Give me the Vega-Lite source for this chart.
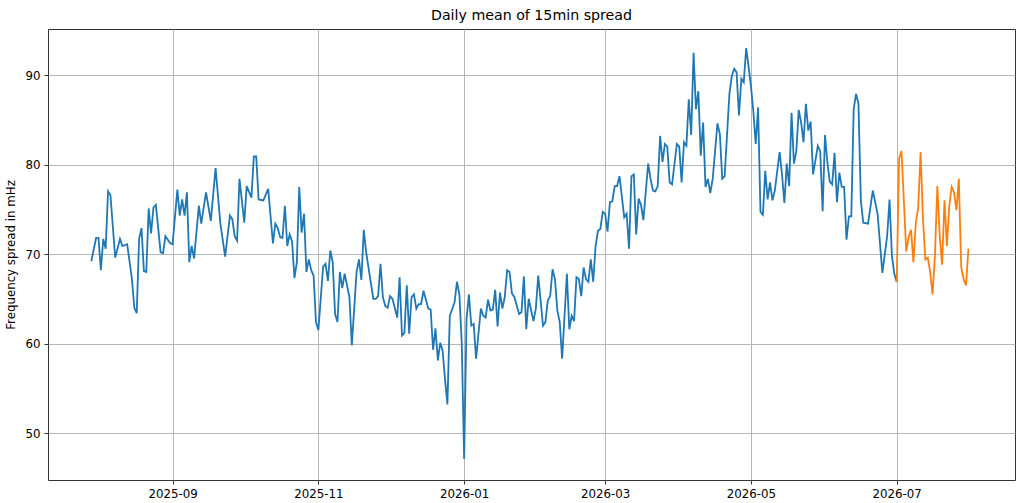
{
  "$schema": "https://vega.github.io/schema/vega-lite/v6.json",
  "width": 967,
  "height": 451,
  "autosize": {"type": "none"},
  "padding": {"left": 48, "top": 29, "right": 9, "bottom": 23},
  "background": "white",
  "title": {
    "text": "Daily mean of 15min spread",
    "font": "DejaVu Sans",
    "fontSize": 14.2,
    "fontWeight": "normal",
    "color": "black",
    "offset": 6
  },
  "config": {
    "view": {"stroke": "#333333", "strokeWidth": 1},
    "axis": {
      "labelFont": "DejaVu Sans",
      "labelFontSize": 11.8,
      "labelColor": "black",
      "titleFont": "DejaVu Sans",
      "titleFontSize": 11.8,
      "titleFontWeight": "normal",
      "titleColor": "black",
      "domain": false,
      "tickColor": "#333333",
      "tickSize": 4,
      "tickWidth": 1,
      "labelPadding": 4,
      "gridColor": "#b0b0b0",
      "gridWidth": 0.9
    }
  },
  "data": {
    "values": [
      {"date": "2025-07-29", "value": 69.2, "series": "past"},
      {"date": "2025-07-31", "value": 71.8, "series": "past"},
      {"date": "2025-08-01", "value": 71.8, "series": "past"},
      {"date": "2025-08-02", "value": 68.2, "series": "past"},
      {"date": "2025-08-03", "value": 71.7, "series": "past"},
      {"date": "2025-08-04", "value": 70.6, "series": "past"},
      {"date": "2025-08-05", "value": 77.0, "series": "past"},
      {"date": "2025-08-06", "value": 76.6, "series": "past"},
      {"date": "2025-08-08", "value": 69.6, "series": "past"},
      {"date": "2025-08-10", "value": 71.7, "series": "past"},
      {"date": "2025-08-11", "value": 70.9, "series": "past"},
      {"date": "2025-08-13", "value": 71.1, "series": "past"},
      {"date": "2025-08-15", "value": 67.2, "series": "past"},
      {"date": "2025-08-16", "value": 64.0, "series": "past"},
      {"date": "2025-08-17", "value": 63.4, "series": "past"},
      {"date": "2025-08-18", "value": 71.7, "series": "past"},
      {"date": "2025-08-19", "value": 72.9, "series": "past"},
      {"date": "2025-08-20", "value": 68.1, "series": "past"},
      {"date": "2025-08-21", "value": 68.0, "series": "past"},
      {"date": "2025-08-22", "value": 75.1, "series": "past"},
      {"date": "2025-08-23", "value": 72.3, "series": "past"},
      {"date": "2025-08-24", "value": 75.2, "series": "past"},
      {"date": "2025-08-25", "value": 75.5, "series": "past"},
      {"date": "2025-08-27", "value": 70.2, "series": "past"},
      {"date": "2025-08-28", "value": 70.1, "series": "past"},
      {"date": "2025-08-29", "value": 72.0, "series": "past"},
      {"date": "2025-08-31", "value": 71.2, "series": "past"},
      {"date": "2025-09-01", "value": 71.1, "series": "past"},
      {"date": "2025-09-03", "value": 77.2, "series": "past"},
      {"date": "2025-09-04", "value": 74.3, "series": "past"},
      {"date": "2025-09-05", "value": 76.1, "series": "past"},
      {"date": "2025-09-06", "value": 74.3, "series": "past"},
      {"date": "2025-09-07", "value": 76.9, "series": "past"},
      {"date": "2025-09-08", "value": 69.1, "series": "past"},
      {"date": "2025-09-09", "value": 70.9, "series": "past"},
      {"date": "2025-09-10", "value": 69.5, "series": "past"},
      {"date": "2025-09-12", "value": 75.4, "series": "past"},
      {"date": "2025-09-13", "value": 73.4, "series": "past"},
      {"date": "2025-09-15", "value": 76.9, "series": "past"},
      {"date": "2025-09-17", "value": 73.7, "series": "past"},
      {"date": "2025-09-19", "value": 79.6, "series": "past"},
      {"date": "2025-09-21", "value": 73.4, "series": "past"},
      {"date": "2025-09-23", "value": 69.7, "series": "past"},
      {"date": "2025-09-25", "value": 74.3, "series": "past"},
      {"date": "2025-09-26", "value": 73.9, "series": "past"},
      {"date": "2025-09-27", "value": 72.0, "series": "past"},
      {"date": "2025-09-28", "value": 71.5, "series": "past"},
      {"date": "2025-09-29", "value": 78.4, "series": "past"},
      {"date": "2025-10-01", "value": 73.5, "series": "past"},
      {"date": "2025-10-02", "value": 77.6, "series": "past"},
      {"date": "2025-10-04", "value": 76.3, "series": "past"},
      {"date": "2025-10-05", "value": 80.9, "series": "past"},
      {"date": "2025-10-06", "value": 80.9, "series": "past"},
      {"date": "2025-10-07", "value": 76.1, "series": "past"},
      {"date": "2025-10-09", "value": 76.0, "series": "past"},
      {"date": "2025-10-11", "value": 77.3, "series": "past"},
      {"date": "2025-10-13", "value": 71.2, "series": "past"},
      {"date": "2025-10-14", "value": 73.4, "series": "past"},
      {"date": "2025-10-15", "value": 72.9, "series": "past"},
      {"date": "2025-10-16", "value": 71.9, "series": "past"},
      {"date": "2025-10-17", "value": 71.8, "series": "past"},
      {"date": "2025-10-18", "value": 75.4, "series": "past"},
      {"date": "2025-10-19", "value": 70.9, "series": "past"},
      {"date": "2025-10-20", "value": 72.2, "series": "past"},
      {"date": "2025-10-21", "value": 71.4, "series": "past"},
      {"date": "2025-10-22", "value": 67.3, "series": "past"},
      {"date": "2025-10-23", "value": 69.1, "series": "past"},
      {"date": "2025-10-24", "value": 77.5, "series": "past"},
      {"date": "2025-10-25", "value": 72.4, "series": "past"},
      {"date": "2025-10-26", "value": 74.5, "series": "past"},
      {"date": "2025-10-27", "value": 68.0, "series": "past"},
      {"date": "2025-10-28", "value": 69.4, "series": "past"},
      {"date": "2025-10-29", "value": 68.2, "series": "past"},
      {"date": "2025-10-30", "value": 67.6, "series": "past"},
      {"date": "2025-10-31", "value": 62.4, "series": "past"},
      {"date": "2025-11-01", "value": 61.5, "series": "past"},
      {"date": "2025-11-03", "value": 68.6, "series": "past"},
      {"date": "2025-11-04", "value": 68.9, "series": "past"},
      {"date": "2025-11-05", "value": 67.0, "series": "past"},
      {"date": "2025-11-06", "value": 70.4, "series": "past"},
      {"date": "2025-11-07", "value": 69.1, "series": "past"},
      {"date": "2025-11-08", "value": 63.3, "series": "past"},
      {"date": "2025-11-09", "value": 62.4, "series": "past"},
      {"date": "2025-11-10", "value": 68.0, "series": "past"},
      {"date": "2025-11-11", "value": 66.2, "series": "past"},
      {"date": "2025-11-12", "value": 67.8, "series": "past"},
      {"date": "2025-11-14", "value": 65.2, "series": "past"},
      {"date": "2025-11-15", "value": 59.8, "series": "past"},
      {"date": "2025-11-17", "value": 68.0, "series": "past"},
      {"date": "2025-11-18", "value": 69.4, "series": "past"},
      {"date": "2025-11-19", "value": 67.1, "series": "past"},
      {"date": "2025-11-20", "value": 72.7, "series": "past"},
      {"date": "2025-11-21", "value": 70.2, "series": "past"},
      {"date": "2025-11-24", "value": 65.0, "series": "past"},
      {"date": "2025-11-25", "value": 65.0, "series": "past"},
      {"date": "2025-11-26", "value": 65.3, "series": "past"},
      {"date": "2025-11-27", "value": 68.9, "series": "past"},
      {"date": "2025-11-28", "value": 65.2, "series": "past"},
      {"date": "2025-11-29", "value": 64.2, "series": "past"},
      {"date": "2025-11-30", "value": 64.0, "series": "past"},
      {"date": "2025-12-01", "value": 65.3, "series": "past"},
      {"date": "2025-12-02", "value": 65.0, "series": "past"},
      {"date": "2025-12-04", "value": 62.9, "series": "past"},
      {"date": "2025-12-05", "value": 67.4, "series": "past"},
      {"date": "2025-12-06", "value": 60.9, "series": "past"},
      {"date": "2025-12-07", "value": 61.2, "series": "past"},
      {"date": "2025-12-08", "value": 66.5, "series": "past"},
      {"date": "2025-12-09", "value": 61.1, "series": "past"},
      {"date": "2025-12-10", "value": 65.2, "series": "past"},
      {"date": "2025-12-11", "value": 65.5, "series": "past"},
      {"date": "2025-12-12", "value": 63.9, "series": "past"},
      {"date": "2025-12-13", "value": 64.4, "series": "past"},
      {"date": "2025-12-14", "value": 64.4, "series": "past"},
      {"date": "2025-12-15", "value": 65.9, "series": "past"},
      {"date": "2025-12-17", "value": 63.9, "series": "past"},
      {"date": "2025-12-18", "value": 63.8, "series": "past"},
      {"date": "2025-12-19", "value": 59.3, "series": "past"},
      {"date": "2025-12-20", "value": 61.7, "series": "past"},
      {"date": "2025-12-21", "value": 58.1, "series": "past"},
      {"date": "2025-12-22", "value": 60.1, "series": "past"},
      {"date": "2025-12-23", "value": 59.2, "series": "past"},
      {"date": "2025-12-24", "value": 56.0, "series": "past"},
      {"date": "2025-12-25", "value": 53.2, "series": "past"},
      {"date": "2025-12-26", "value": 63.1, "series": "past"},
      {"date": "2025-12-28", "value": 64.6, "series": "past"},
      {"date": "2025-12-29", "value": 66.9, "series": "past"},
      {"date": "2025-12-30", "value": 65.5, "series": "past"},
      {"date": "2025-12-31", "value": 60.1, "series": "past"},
      {"date": "2026-01-01", "value": 47.1, "series": "past"},
      {"date": "2026-01-02", "value": 62.7, "series": "past"},
      {"date": "2026-01-03", "value": 65.5, "series": "past"},
      {"date": "2026-01-04", "value": 62.0, "series": "past"},
      {"date": "2026-01-05", "value": 62.2, "series": "past"},
      {"date": "2026-01-06", "value": 58.3, "series": "past"},
      {"date": "2026-01-08", "value": 63.9, "series": "past"},
      {"date": "2026-01-09", "value": 63.1, "series": "past"},
      {"date": "2026-01-10", "value": 62.9, "series": "past"},
      {"date": "2026-01-11", "value": 64.9, "series": "past"},
      {"date": "2026-01-12", "value": 63.7, "series": "past"},
      {"date": "2026-01-13", "value": 63.8, "series": "past"},
      {"date": "2026-01-14", "value": 66.0, "series": "past"},
      {"date": "2026-01-15", "value": 61.9, "series": "past"},
      {"date": "2026-01-16", "value": 65.7, "series": "past"},
      {"date": "2026-01-17", "value": 63.9, "series": "past"},
      {"date": "2026-01-18", "value": 65.2, "series": "past"},
      {"date": "2026-01-19", "value": 68.2, "series": "past"},
      {"date": "2026-01-20", "value": 68.0, "series": "past"},
      {"date": "2026-01-21", "value": 65.6, "series": "past"},
      {"date": "2026-01-22", "value": 65.2, "series": "past"},
      {"date": "2026-01-24", "value": 63.3, "series": "past"},
      {"date": "2026-01-25", "value": 63.5, "series": "past"},
      {"date": "2026-01-26", "value": 67.5, "series": "past"},
      {"date": "2026-01-27", "value": 61.6, "series": "past"},
      {"date": "2026-01-28", "value": 65.0, "series": "past"},
      {"date": "2026-01-30", "value": 62.5, "series": "past"},
      {"date": "2026-01-31", "value": 63.9, "series": "past"},
      {"date": "2026-02-01", "value": 67.6, "series": "past"},
      {"date": "2026-02-03", "value": 62.0, "series": "past"},
      {"date": "2026-02-04", "value": 62.4, "series": "past"},
      {"date": "2026-02-05", "value": 64.8, "series": "past"},
      {"date": "2026-02-06", "value": 65.3, "series": "past"},
      {"date": "2026-02-07", "value": 68.3, "series": "past"},
      {"date": "2026-02-08", "value": 67.2, "series": "past"},
      {"date": "2026-02-09", "value": 63.7, "series": "past"},
      {"date": "2026-02-10", "value": 62.4, "series": "past"},
      {"date": "2026-02-11", "value": 58.3, "series": "past"},
      {"date": "2026-02-13", "value": 67.8, "series": "past"},
      {"date": "2026-02-14", "value": 61.6, "series": "past"},
      {"date": "2026-02-15", "value": 63.1, "series": "past"},
      {"date": "2026-02-16", "value": 62.5, "series": "past"},
      {"date": "2026-02-17", "value": 67.4, "series": "past"},
      {"date": "2026-02-18", "value": 67.2, "series": "past"},
      {"date": "2026-02-19", "value": 65.3, "series": "past"},
      {"date": "2026-02-20", "value": 68.5, "series": "past"},
      {"date": "2026-02-21", "value": 67.2, "series": "past"},
      {"date": "2026-02-22", "value": 66.9, "series": "past"},
      {"date": "2026-02-23", "value": 69.4, "series": "past"},
      {"date": "2026-02-24", "value": 66.9, "series": "past"},
      {"date": "2026-02-25", "value": 70.9, "series": "past"},
      {"date": "2026-02-26", "value": 72.6, "series": "past"},
      {"date": "2026-02-27", "value": 72.8, "series": "past"},
      {"date": "2026-02-28", "value": 74.7, "series": "past"},
      {"date": "2026-03-01", "value": 74.5, "series": "past"},
      {"date": "2026-03-02", "value": 72.5, "series": "past"},
      {"date": "2026-03-03", "value": 75.8, "series": "past"},
      {"date": "2026-03-04", "value": 75.9, "series": "past"},
      {"date": "2026-03-05", "value": 77.6, "series": "past"},
      {"date": "2026-03-06", "value": 77.6, "series": "past"},
      {"date": "2026-03-07", "value": 78.7, "series": "past"},
      {"date": "2026-03-09", "value": 74.1, "series": "past"},
      {"date": "2026-03-10", "value": 74.5, "series": "past"},
      {"date": "2026-03-11", "value": 70.6, "series": "past"},
      {"date": "2026-03-12", "value": 78.7, "series": "past"},
      {"date": "2026-03-13", "value": 78.9, "series": "past"},
      {"date": "2026-03-14", "value": 72.2, "series": "past"},
      {"date": "2026-03-15", "value": 76.2, "series": "past"},
      {"date": "2026-03-16", "value": 75.5, "series": "past"},
      {"date": "2026-03-17", "value": 73.8, "series": "past"},
      {"date": "2026-03-19", "value": 80.1, "series": "past"},
      {"date": "2026-03-20", "value": 78.4, "series": "past"},
      {"date": "2026-03-21", "value": 77.1, "series": "past"},
      {"date": "2026-03-22", "value": 77.0, "series": "past"},
      {"date": "2026-03-23", "value": 77.6, "series": "past"},
      {"date": "2026-03-24", "value": 83.2, "series": "past"},
      {"date": "2026-03-25", "value": 80.3, "series": "past"},
      {"date": "2026-03-26", "value": 82.3, "series": "past"},
      {"date": "2026-03-27", "value": 82.0, "series": "past"},
      {"date": "2026-03-28", "value": 78.0, "series": "past"},
      {"date": "2026-03-29", "value": 77.8, "series": "past"},
      {"date": "2026-03-31", "value": 82.3, "series": "past"},
      {"date": "2026-04-01", "value": 82.0, "series": "past"},
      {"date": "2026-04-02", "value": 78.0, "series": "past"},
      {"date": "2026-04-03", "value": 82.5, "series": "past"},
      {"date": "2026-04-04", "value": 82.1, "series": "past"},
      {"date": "2026-04-05", "value": 87.3, "series": "past"},
      {"date": "2026-04-06", "value": 83.3, "series": "past"},
      {"date": "2026-04-07", "value": 92.5, "series": "past"},
      {"date": "2026-04-08", "value": 86.2, "series": "past"},
      {"date": "2026-04-09", "value": 88.2, "series": "past"},
      {"date": "2026-04-10", "value": 81.0, "series": "past"},
      {"date": "2026-04-11", "value": 84.7, "series": "past"},
      {"date": "2026-04-12", "value": 77.5, "series": "past"},
      {"date": "2026-04-13", "value": 78.4, "series": "past"},
      {"date": "2026-04-14", "value": 76.8, "series": "past"},
      {"date": "2026-04-15", "value": 78.4, "series": "past"},
      {"date": "2026-04-17", "value": 84.6, "series": "past"},
      {"date": "2026-04-18", "value": 83.4, "series": "past"},
      {"date": "2026-04-19", "value": 78.4, "series": "past"},
      {"date": "2026-04-20", "value": 78.7, "series": "past"},
      {"date": "2026-04-22", "value": 87.9, "series": "past"},
      {"date": "2026-04-23", "value": 89.9, "series": "past"},
      {"date": "2026-04-24", "value": 90.7, "series": "past"},
      {"date": "2026-04-25", "value": 90.3, "series": "past"},
      {"date": "2026-04-26", "value": 85.5, "series": "past"},
      {"date": "2026-04-27", "value": 89.6, "series": "past"},
      {"date": "2026-04-28", "value": 89.2, "series": "past"},
      {"date": "2026-04-29", "value": 93.0, "series": "past"},
      {"date": "2026-04-30", "value": 91.0, "series": "past"},
      {"date": "2026-05-01", "value": 88.8, "series": "past"},
      {"date": "2026-05-02", "value": 86.0, "series": "past"},
      {"date": "2026-05-03", "value": 82.3, "series": "past"},
      {"date": "2026-05-04", "value": 86.4, "series": "past"},
      {"date": "2026-05-05", "value": 74.7, "series": "past"},
      {"date": "2026-05-06", "value": 74.4, "series": "past"},
      {"date": "2026-05-07", "value": 79.3, "series": "past"},
      {"date": "2026-05-08", "value": 76.1, "series": "past"},
      {"date": "2026-05-09", "value": 78.0, "series": "past"},
      {"date": "2026-05-10", "value": 76.0, "series": "past"},
      {"date": "2026-05-11", "value": 77.1, "series": "past"},
      {"date": "2026-05-13", "value": 81.4, "series": "past"},
      {"date": "2026-05-14", "value": 78.9, "series": "past"},
      {"date": "2026-05-15", "value": 75.7, "series": "past"},
      {"date": "2026-05-16", "value": 80.1, "series": "past"},
      {"date": "2026-05-17", "value": 77.6, "series": "past"},
      {"date": "2026-05-18", "value": 85.8, "series": "past"},
      {"date": "2026-05-19", "value": 80.1, "series": "past"},
      {"date": "2026-05-20", "value": 81.5, "series": "past"},
      {"date": "2026-05-21", "value": 86.1, "series": "past"},
      {"date": "2026-05-22", "value": 84.7, "series": "past"},
      {"date": "2026-05-23", "value": 82.5, "series": "past"},
      {"date": "2026-05-24", "value": 86.8, "series": "past"},
      {"date": "2026-05-25", "value": 83.8, "series": "past"},
      {"date": "2026-05-26", "value": 84.8, "series": "past"},
      {"date": "2026-05-27", "value": 78.9, "series": "past"},
      {"date": "2026-05-29", "value": 82.1, "series": "past"},
      {"date": "2026-05-30", "value": 81.5, "series": "past"},
      {"date": "2026-05-31", "value": 74.8, "series": "past"},
      {"date": "2026-06-01", "value": 83.3, "series": "past"},
      {"date": "2026-06-02", "value": 80.2, "series": "past"},
      {"date": "2026-06-03", "value": 78.1, "series": "past"},
      {"date": "2026-06-04", "value": 77.8, "series": "past"},
      {"date": "2026-06-05", "value": 81.3, "series": "past"},
      {"date": "2026-06-06", "value": 75.8, "series": "past"},
      {"date": "2026-06-07", "value": 79.1, "series": "past"},
      {"date": "2026-06-08", "value": 77.5, "series": "past"},
      {"date": "2026-06-09", "value": 77.5, "series": "past"},
      {"date": "2026-06-10", "value": 71.6, "series": "past"},
      {"date": "2026-06-11", "value": 74.2, "series": "past"},
      {"date": "2026-06-12", "value": 74.2, "series": "past"},
      {"date": "2026-06-13", "value": 86.2, "series": "past"},
      {"date": "2026-06-14", "value": 87.9, "series": "past"},
      {"date": "2026-06-15", "value": 86.8, "series": "past"},
      {"date": "2026-06-16", "value": 76.0, "series": "past"},
      {"date": "2026-06-17", "value": 73.5, "series": "past"},
      {"date": "2026-06-19", "value": 73.4, "series": "past"},
      {"date": "2026-06-21", "value": 77.1, "series": "past"},
      {"date": "2026-06-23", "value": 74.5, "series": "past"},
      {"date": "2026-06-25", "value": 67.9, "series": "past"},
      {"date": "2026-06-27", "value": 72.0, "series": "past"},
      {"date": "2026-06-28", "value": 76.1, "series": "past"},
      {"date": "2026-06-29", "value": 69.8, "series": "past"},
      {"date": "2026-06-30", "value": 67.8, "series": "past"},
      {"date": "2026-07-01", "value": 66.9, "series": "past"},
      {"date": "2026-07-01", "value": 66.9, "series": "recent"},
      {"date": "2026-07-02", "value": 80.7, "series": "recent"},
      {"date": "2026-07-03", "value": 81.5, "series": "recent"},
      {"date": "2026-07-05", "value": 70.3, "series": "recent"},
      {"date": "2026-07-06", "value": 71.9, "series": "recent"},
      {"date": "2026-07-07", "value": 72.7, "series": "recent"},
      {"date": "2026-07-08", "value": 69.1, "series": "recent"},
      {"date": "2026-07-09", "value": 73.5, "series": "recent"},
      {"date": "2026-07-10", "value": 75.2, "series": "recent"},
      {"date": "2026-07-11", "value": 81.4, "series": "recent"},
      {"date": "2026-07-12", "value": 73.9, "series": "recent"},
      {"date": "2026-07-13", "value": 69.4, "series": "recent"},
      {"date": "2026-07-14", "value": 69.6, "series": "recent"},
      {"date": "2026-07-15", "value": 68.0, "series": "recent"},
      {"date": "2026-07-16", "value": 65.5, "series": "recent"},
      {"date": "2026-07-17", "value": 69.8, "series": "recent"},
      {"date": "2026-07-18", "value": 77.6, "series": "recent"},
      {"date": "2026-07-19", "value": 72.0, "series": "recent"},
      {"date": "2026-07-20", "value": 68.8, "series": "recent"},
      {"date": "2026-07-21", "value": 76.0, "series": "recent"},
      {"date": "2026-07-22", "value": 70.9, "series": "recent"},
      {"date": "2026-07-23", "value": 75.4, "series": "recent"},
      {"date": "2026-07-24", "value": 77.5, "series": "recent"},
      {"date": "2026-07-25", "value": 76.9, "series": "recent"},
      {"date": "2026-07-26", "value": 74.9, "series": "recent"},
      {"date": "2026-07-27", "value": 78.4, "series": "recent"},
      {"date": "2026-07-28", "value": 68.5, "series": "recent"},
      {"date": "2026-07-29", "value": 67.2, "series": "recent"},
      {"date": "2026-07-30", "value": 66.5, "series": "recent"},
      {"date": "2026-07-31", "value": 70.6, "series": "recent"}
    ]
  },
  "mark": {"type": "line", "strokeWidth": 1.8, "clip": true},
  "encoding": {
    "x": {
      "field": "date",
      "type": "temporal",
      "scale": {
        "type": "utc",
        "domain": [
          {"year": 2025, "month": 7, "date": 10, "hours": 21, "utc": true},
          {"year": 2026, "month": 8, "date": 19, "hours": 12, "utc": true}
        ]
      },
      "axis": {
        "title": null,
        "format": "%Y-%m",
        "labelAngle": 0,
        "values": [
          {"year": 2025, "month": 9, "date": 1, "utc": true},
          {"year": 2025, "month": 11, "date": 1, "utc": true},
          {"year": 2026, "month": 1, "date": 1, "utc": true},
          {"year": 2026, "month": 3, "date": 1, "utc": true},
          {"year": 2026, "month": 5, "date": 1, "utc": true},
          {"year": 2026, "month": 7, "date": 1, "utc": true}
        ]
      }
    },
    "y": {
      "field": "value",
      "type": "quantitative",
      "scale": {"domain": [44.75, 95.15], "nice": false, "zero": false},
      "axis": {
        "title": "Frequency spread in mHz",
        "values": [50, 60, 70, 80, 90],
        "titlePadding": 8
      }
    },
    "color": {
      "field": "series",
      "type": "nominal",
      "scale": {"domain": ["past", "recent"], "range": ["#1f77b4", "#ff7f0e"]},
      "legend": null
    }
  }
}
